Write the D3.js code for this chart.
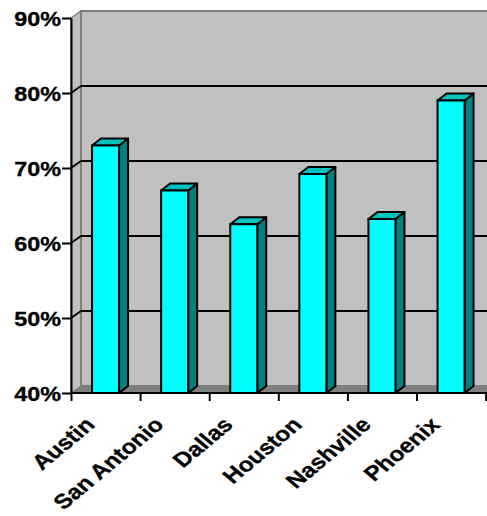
<!DOCTYPE html>
<html><head><meta charset="utf-8">
<script src="https://cdn.jsdelivr.net/npm/d3@7"></script>
<style>
html,body{margin:0;padding:0;background:#fff;}
svg{display:block;}
text{font-family:"Liberation Sans",Arial,sans-serif;font-weight:bold;fill:#000;}
</style></head>
<body>
<svg id="c" width="487" height="516"></svg>
<script>
const categories = ["Austin","San Antonio","Dallas","Houston","Nashville","Phoenix"];
const values = [73, 67, 62.5, 69.2, 63.2, 79];
const yTicks = [40, 50, 60, 70, 80, 90];

const svg = d3.select("#c");
const X0 = 71, X1 = 485.6, Y0 = 393, Y1 = 18;
const DX = 10, DY = 7;      // wall depth
const BDX = 9, BDY = 7;     // bar depth
const SX = 1.2;             // horizontal text stretch

const x = d3.scaleBand().domain(categories).range([X0, X1]).paddingInner(0).paddingOuter(0);
const xb = d3.scaleLinear().domain([0, categories.length]).range([X0, X1]);
const y = d3.scaleLinear().domain([40, 90]).range([Y0, Y1]);

// side wall
svg.append("polygon")
  .attr("points", [[X0, y(90)], [X0 + DX, y(90) - DY], [X0 + DX, Y0 - DY], [X0, Y0]].map(p => p.join(",")).join(" "))
  .attr("fill", "#c0c0c0").attr("stroke", "#808080").attr("stroke-width", 1.5);
// back wall
svg.append("rect")
  .attr("x", X0 + DX).attr("y", y(90) - DY)
  .attr("width", 487 - (X0 + DX) + 2).attr("height", (Y0 - DY) - (y(90) - DY))
  .attr("fill", "#c0c0c0").attr("stroke", "#808080").attr("stroke-width", 2);
// floor
svg.append("polygon")
  .attr("points", [[X0, Y0], [X0 + DX, Y0 - DY], [489, Y0 - DY], [489, Y0]].map(p => p.join(",")).join(" "))
  .attr("fill", "#808080");

// gridlines
const grid = yTicks.filter(t => t > 40 && t < 90);
const gg = svg.append("g");
gg.selectAll("line.h").data(grid).join("line")
  .attr("x1", X0 + DX).attr("x2", 489)
  .attr("y1", d => y(d) - DY).attr("y2", d => y(d) - DY)
  .attr("stroke", "#000").attr("stroke-width", 2);
gg.selectAll("line.d").data(grid).join("line")
  .attr("x1", X0).attr("x2", X0 + DX)
  .attr("y1", d => y(d)).attr("y2", d => y(d) - DY)
  .attr("stroke", "#000").attr("stroke-width", 2);

// bars
const bw = 27;
const bars = svg.append("g").selectAll("g").data(categories.map((c, i) => ({c, v: values[i]}))).join("g");
const bx = d => x(d.c) + x.bandwidth() / 2 - bw / 2;
bars.append("polygon") // side
  .attr("points", d => {
    const l = bx(d) + bw, t = y(d.v);
    return [[l, Y0], [l + BDX, Y0 - BDY], [l + BDX, t - BDY], [l, t]].map(p => p.join(",")).join(" ");
  })
  .attr("fill", "#008080").attr("stroke", "#000").attr("stroke-width", 2).attr("stroke-linejoin", "round");
bars.append("polygon") // top
  .attr("points", d => {
    const l = bx(d), t = y(d.v);
    return [[l, t], [l + BDX, t - BDY], [l + bw + BDX, t - BDY], [l + bw, t]].map(p => p.join(",")).join(" ");
  })
  .attr("fill", "#00c0c0").attr("stroke", "#000").attr("stroke-width", 2).attr("stroke-linejoin", "round");
bars.append("rect") // front
  .attr("x", d => bx(d)).attr("y", d => y(d.v))
  .attr("width", bw).attr("height", d => Y0 - y(d.v))
  .attr("fill", "#00ffff").attr("stroke", "#000").attr("stroke-width", 2);

// y axis
const ya = svg.append("g").attr("transform", `translate(${X0},0)`)
  .call(d3.axisLeft(y).tickValues(yTicks).tickSize(9).tickSizeOuter(0).tickFormat(d => d + "%"));
ya.select(".domain").attr("stroke", "#000").attr("stroke-width", 2);
ya.selectAll(".tick line").attr("stroke", "#000").attr("stroke-width", 2);
ya.selectAll(".tick text")
  .attr("x", 0).attr("dy", "0.36em")
  .attr("transform", `translate(-10,0) scale(${SX},1)`)
  .style("font-size", "19.5px").style("font-family", "'Liberation Sans',Arial,sans-serif").style("font-weight", "bold")
  .attr("fill", "#000").attr("stroke", "#000").attr("stroke-width", 0.3);

// x axis (ticks at category boundaries)
const xa = svg.append("g").attr("transform", `translate(0,${Y0})`)
  .call(d3.axisBottom(xb).tickValues(d3.range(categories.length + 1)).tickSize(8).tickSizeOuter(0).tickFormat(""));
xa.select(".domain").attr("d", `M${X0},0H489`).attr("stroke", "#000").attr("stroke-width", 2);
xa.selectAll(".tick line").attr("stroke", "#000").attr("stroke-width", 2);

// category labels
svg.append("g").selectAll("text").data(categories).join("text")
  .attr("transform", d => `translate(${x(d) + x.bandwidth() / 2 - 9.5},426) scale(${SX},1) rotate(-45)`)
  .attr("text-anchor", "end")
  .attr("stroke", "#000").attr("stroke-width", 0.3)
  .style("font-size", "20.5px")
  .text(d => d);
</script>
</body></html>
